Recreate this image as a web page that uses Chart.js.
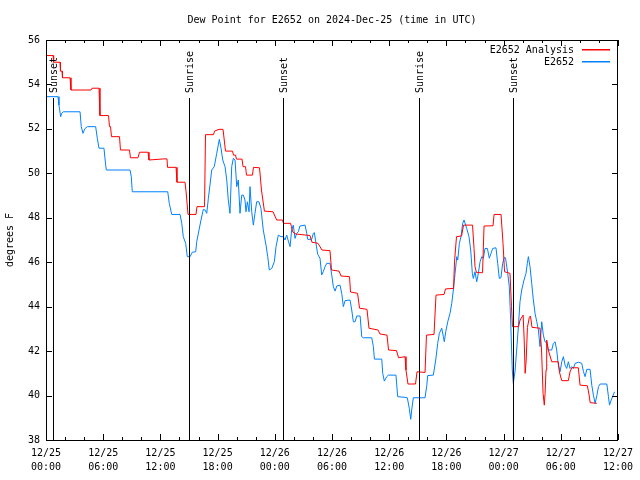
<!DOCTYPE html>
<html lang="en">
<head>
  <meta charset="UTF-8">
  <title>Dew Point for E2652</title>
  <script src="https://cdn.jsdelivr.net/npm/chart.js"></script>
  <style>
    html, body { margin: 0; padding: 0; background: #fff; }
    #wrap { width: 640px; height: 480px; }
  </style>
</head>
<body>
  <div id="wrap"><canvas id="dewChart" width="640" height="480"></canvas></div>
  <script>
    // hours since 2024-12-25 00:00 UTC
    const analysisHours = [0, 0.75, 0.8, 1.47, 1.52, 1.68, 1.73, 2.52, 2.62, 4.72, 4.83, 5.56, 5.66, 6.56, 6.66, 6.77, 6.87, 7.71, 7.81, 8.76, 8.86, 9.65, 9.81, 10.7, 10.8, 12.38,
      12.69, 12.75, 13.64, 13.74, 14.58, 14.69, 14.79, 14.9, 15.73, 15.84, 16.63, 16.73, 17.57, 17.68, 18.15, 18.57, 18.83, 19.56, 19.67, 19.88, 19.98, 20.56, 20.67,
      20.93, 21.03, 21.66, 21.76, 22.4, 22.6, 22.91, 23.81, 24.2, 24.81, 24.91, 25.65, 25.75, 25.86, 26.22, 27.69, 27.9, 28.53, 28.95, 29.79, 29.95, 30.74, 30.95,
      31.84, 31.94, 32.68, 32.89, 33.67, 33.88, 34.83, 35.04, 35.77, 35.93, 36.77, 36.98, 37.66, 37.76, 37.97, 38.76, 38.92, 39.76, 39.91, 40.7, 40.91, 41.75, 41.91,
      42.75, 42.85, 43.06, 43.59, 43.8, 44.74, 44.9, 45.0, 45.16, 45.79, 45.95, 46.89, 47.0, 47.73, 47.94, 48.1, 48.67, 48.83, 48.93, 49.57, 49.73, 50.05, 50.16,
      50.26, 50.37, 50.5, 50.7, 50.82, 50.98, 51.82, 51.98, 52.14, 52.27, 52.35, 52.45, 52.52, 52.69, 53.05, 53.74, 53.85, 54.1, 54.79, 54.97, 55.15, 55.84, 56.02,
      56.79, 56.97, 57.08, 57.77];
    const analysisValues = [55.3, 55.3, 55.0, 55.0, 54.6, 54.6, 54.3, 54.3, 53.75, 53.75, 53.83, 53.83, 52.6, 52.6, 52.1, 52.1, 51.65, 51.65, 51.05, 51.05, 50.7, 50.7, 50.95, 50.95, 50.6, 50.65,
      50.65, 50.27, 50.27, 49.6, 49.6, 49.2, 49.2, 48.15, 48.15, 48.5, 48.5, 51.74, 51.74, 51.9, 51.98, 51.98, 51.0, 51.0, 50.82, 50.82, 50.64, 50.64, 50.3,
      50.3, 49.92, 49.92, 50.27, 50.25, 49.25, 48.3, 48.27, 47.9, 47.9, 47.75, 47.75, 47.6, 47.37, 47.27, 47.2, 46.9, 46.85, 46.55, 46.52, 45.65, 45.6, 45.38,
      45.35, 44.66, 44.6, 43.93, 43.88, 43.03, 42.95, 42.77, 42.72, 42.05, 42.02, 41.7, 41.75, 41.15, 40.52, 40.52, 41.07, 41.04, 42.72, 42.75, 44.52, 44.55, 44.8,
      44.82, 46.02, 47.15, 47.18, 47.67, 47.67, 46.62, 45.8, 45.53, 45.53, 47.63, 47.64, 48.15, 48.15, 46.85, 45.57, 45.5, 44.0, 43.1, 43.1, 43.4, 43.62, 42.5,
      41.0, 41.6, 43.07, 43.52, 43.58, 43.07, 43.03, 42.05, 40.1, 39.57, 40.1, 41.15, 42.5, 42.05, 41.52, 41.52, 41.07, 40.67, 40.67, 41.07, 41.25, 41.25, 40.47,
      40.44, 40.02, 39.68, 39.65];

    const obsHours = [0, 1.26, 1.36, 1.54, 1.65, 1.81, 3.57, 3.7, 3.88, 4.06, 4.33, 5.21, 5.38, 5.56, 6.08, 6.26, 6.33, 8.81, 8.95, 9.05, 12.77, 12.93, 13.19,
      14.06, 14.24, 14.4, 14.65, 14.82, 15.11, 15.35, 15.7, 15.81, 16.05, 16.26, 16.5, 16.68, 16.86, 17.03, 17.2, 17.38, 17.65, 17.91, 18.18, 18.36, 18.54, 18.78,
      18.96, 19.12, 19.3, 19.48, 19.65, 19.83, 20.01, 20.17, 20.35, 20.53, 20.7, 20.87, 20.98, 21.12, 21.3, 21.4, 21.58, 21.75, 21.92, 22.1, 22.34, 22.55, 22.79,
      23.08, 23.26, 23.42, 23.68, 23.95, 24.13, 24.37, 24.65, 24.89, 25.07, 25.25, 25.42, 25.6, 25.77, 25.94, 26.12, 26.3, 26.47, 26.64, 27.17, 27.35, 27.45, 27.87,
      28.04, 28.15, 28.32, 28.5, 28.74, 28.92, 29.09, 29.27, 29.45, 29.79, 29.97, 30.14, 30.32, 30.5, 30.84, 31.02, 31.19, 31.37, 31.89, 32.07, 32.24, 32.42, 32.6,
      32.95, 33.12, 33.29, 34.17, 34.34, 34.45, 35.22, 35.32, 35.49, 35.74, 35.91, 36.71, 36.89, 37.66, 37.9, 38.11, 38.26, 38.36, 38.53, 39.76, 39.94, 40.04,
      40.63, 40.88, 41.09, 41.26, 41.51, 41.68, 41.78, 41.93, 42.14, 42.38, 42.56, 42.73, 42.91, 43.09, 43.19, 43.36, 43.53, 43.71, 43.85, 44.13, 44.37, 44.55,
      44.72, 44.82, 45.0, 45.18, 45.35, 45.53, 45.71, 45.88, 46.05, 46.3, 46.5, 46.68, 46.86, 47.2, 47.38, 47.55, 47.72, 47.9, 48.07, 48.2, 48.43, 48.6, 48.74,
      48.91, 49.02, 49.2, 49.37, 49.55, 49.72, 49.9, 50.14, 50.35, 50.49, 50.6, 50.77, 50.95, 51.12, 51.3, 51.48, 51.65, 51.82, 52.0, 52.17, 52.34, 52.52, 52.69,
      53.05, 53.22, 53.4, 53.57, 53.74, 53.92, 54.1, 54.27, 54.45, 54.62, 54.79, 54.97, 55.15, 55.32, 55.5, 55.85, 56.2, 56.38, 56.55, 56.73, 57.07, 57.25, 57.42,
      57.6, 57.78, 57.95, 58.13, 58.83, 59.0, 59.11, 59.29, 59.43, 59.64];
    const obsValues = [53.45, 53.45, 53.07, 52.55, 52.7, 52.77, 52.77, 52.1, 51.8, 52.0, 52.1, 52.1, 51.58, 51.13, 51.13, 50.37, 50.15, 50.15, 49.85, 49.17, 49.17, 48.65, 48.15,
      48.15, 47.75, 47.15, 46.85, 46.25, 46.25, 46.45, 46.47, 46.92, 47.45, 47.9, 48.38, 48.35, 48.2, 48.87, 49.47, 50.15, 50.3, 50.9, 51.53, 51.13, 50.6, 50.3,
      49.7, 48.8, 48.2, 50.3, 50.68, 50.6, 49.4, 49.7, 48.2, 49.02, 49.02, 48.8, 48.27, 48.72, 48.27, 49.4, 48.27, 47.67, 48.2, 48.72, 48.72, 48.42, 47.45,
      46.77, 46.25, 45.65, 45.72, 46.02, 46.7, 47.22, 47.15, 47.15, 47.0, 47.22, 46.95, 46.7, 47.45, 47.67, 47.07, 47.3, 47.37, 47.63, 47.67, 47.3, 47.03, 47.03,
      47.3, 47.33, 46.85, 46.36, 46.18, 45.43, 45.58, 45.8, 45.95, 45.95, 45.43, 44.9, 44.7, 44.93, 44.97, 44.6, 44.0, 44.27, 44.3, 43.85, 43.32, 43.32, 43.58,
      43.58, 42.65, 42.6, 42.6, 42.2, 41.64, 41.64, 41.0, 40.65, 40.85, 40.92, 40.92, 39.95, 39.92, 39.9, 39.42, 38.93, 39.35, 39.9, 39.9, 40.44, 40.9,
      40.92, 41.6, 42.35, 42.8, 43.03, 42.65, 42.42, 42.87, 43.32, 43.7, 44.15, 44.75, 45.5, 46.25, 46.1, 46.85, 47.15, 47.75, 47.9, 47.52, 47.15, 46.55,
      45.5, 45.27, 45.57, 45.12, 45.5, 46.02, 46.25, 46.18, 46.62, 46.62, 46.18, 46.4, 46.62, 46.65, 45.95, 45.27, 45.3, 45.95, 46.22, 46.2, 45.5, 44.9, 43.4,
      41.15, 40.55, 41.1, 42.05, 43.1, 44.22, 44.75, 45.2, 45.5, 45.95, 46.25, 45.8, 45.05, 44.3, 43.7, 43.32, 42.95, 42.2, 43.32, 42.72, 42.42, 42.37, 42.05,
      42.05, 42.35, 42.42, 42.05, 41.37, 41.07, 41.52, 41.75, 41.37, 41.22, 41.52, 41.22, 41.3, 41.22, 41.45, 41.5, 41.45, 41.07, 40.85, 41.18, 41.18, 40.47, 40.02,
      39.65, 40.0, 40.4, 40.52, 40.52, 39.95, 39.57, 39.8, 39.95, 40.17];

    const xTickDates = ['12/25', '12/25', '12/25', '12/25', '12/26', '12/26', '12/26', '12/26', '12/27', '12/27', '12/27'];
    const xTickTimes = ['00:00', '06:00', '12:00', '18:00', '00:00', '06:00', '12:00', '18:00', '00:00', '06:00', '12:00'];

    const sunHours = [0.73, 15.0, 24.86, 39.13, 48.99];
    const sunLabels = ['Sunset', 'Sunrise', 'Sunset', 'Sunrise', 'Sunset'];

    const RED = '#ff0000';
    const BLUE = '#0080ff';
    const FONT = '10px "DejaVu Sans Mono"';

    function toPoints(xs, ys) {
      return xs.map((h, i) => ({ x: h, y: ys[i] }));
    }

    // frame, inward ticks, sun lines, legend, title, y title
    const gnuplotLook = {
      id: 'gnuplotLook',
      afterDraw(chart) {
        const { ctx, chartArea: a, scales: { x, y } } = chart;
        ctx.save();
        ctx.strokeStyle = '#000';
        ctx.lineWidth = 1;
        ctx.strokeRect(a.left + 0.5, a.top + 0.5, a.right - a.left - 1, a.bottom - a.top);

        ctx.beginPath();
        for (let h = 0; h <= 60; h += 2) {
          const px = Math.round(x.getPixelForValue(h)) + 0.5;
          const len = h % 6 === 0 ? 6 : 3;
          ctx.moveTo(px, a.bottom); ctx.lineTo(px, a.bottom - len);
          ctx.moveTo(px, a.top); ctx.lineTo(px, a.top + len);
        }
        for (let v = 38; v <= 56; v += 2) {
          const py = Math.round(y.getPixelForValue(v)) + 0.5;
          ctx.moveTo(a.left, py); ctx.lineTo(a.left + 6, py);
          ctx.moveTo(a.right, py); ctx.lineTo(a.right - 6, py);
        }
        ctx.stroke();

        // sunrise / sunset markers
        ctx.font = FONT;
        ctx.fillStyle = '#000';
        sunHours.forEach((h, i) => {
          const px = Math.round(x.getPixelForValue(h)) + 0.5;
          ctx.beginPath();
          ctx.moveTo(px, a.top + 58);
          ctx.lineTo(px, a.bottom);
          ctx.stroke();
          ctx.save();
          ctx.translate(px + 1, a.top + 53);
          ctx.rotate(-Math.PI / 2);
          ctx.textAlign = 'left';
          ctx.textBaseline = 'middle';
          ctx.fillText(sunLabels[i], 0, 0);
          ctx.restore();
        });

        // legend
        ctx.textAlign = 'right';
        ctx.textBaseline = 'middle';
        [RED, BLUE].forEach((col, i) => {
          const ly = Math.round(a.top + 10 + i * 12);
          ctx.fillStyle = '#000';
          ctx.fillText(chart.data.datasets[i].label, a.right - 44, ly);
          ctx.fillStyle = col;
          ctx.fillRect(Math.round(a.right - 36), ly - 1, 28, 1.5);
        });

        // title
        ctx.fillStyle = '#000';
        ctx.textAlign = 'center';
        ctx.fillText('Dew Point for E2652 on 2024-Dec-25 (time in UTC)', (a.left + a.right) / 2, 20);

        // y axis title
        ctx.save();
        ctx.translate(10, (a.top + a.bottom) / 2);
        ctx.rotate(-Math.PI / 2);
        ctx.fillText('degrees F', 0, 0);
        ctx.restore();
        ctx.restore();
      }
    };

    new Chart(document.getElementById('dewChart'), {
      type: 'line',
      data: {
        datasets: [
          {
            label: 'E2652 Analysis',
            data: toPoints(analysisHours, analysisValues),
            borderColor: RED,
            borderWidth: 1,
            pointRadius: 0,
            tension: 0
          },
          {
            label: 'E2652',
            data: toPoints(obsHours, obsValues),
            borderColor: BLUE,
            borderWidth: 1,
            pointRadius: 0,
            tension: 0
          }
        ]
      },
      options: {
        responsive: false,
        animation: false,
        events: [],
        layout: { padding: { top: 40, right: 22, left: 0, bottom: 0 } },
        plugins: {
          legend: { display: false },
          title: { display: false },
          tooltip: { enabled: false }
        },
        scales: {
          x: {
            type: 'linear',
            min: 0,
            max: 60,
            grid: { display: false, drawTicks: false },
            border: { display: false },
            afterFit(s) { s.height = 40; },
            afterBuildTicks(s) { s.ticks = xTickTimes.map((t, i) => ({ value: i * 6 })); },
            ticks: {
              maxRotation: 0,
              autoSkip: false,
              padding: 6,
              color: '#000',
              font: { family: 'DejaVu Sans Mono', size: 10, lineHeight: 1.4 },
              callback: (v) => [xTickDates[v / 6], xTickTimes[v / 6]]
            }
          },
          y: {
            min: 38,
            max: 56,
            grid: { display: false, drawTicks: false },
            border: { display: false },
            afterFit(s) { s.width = 46; },
            ticks: {
              stepSize: 2,
              padding: 6,
              color: '#000',
              font: { family: 'DejaVu Sans Mono', size: 10 }
            }
          }
        }
      },
      plugins: [gnuplotLook]
    });
  </script>
</body>
</html>
